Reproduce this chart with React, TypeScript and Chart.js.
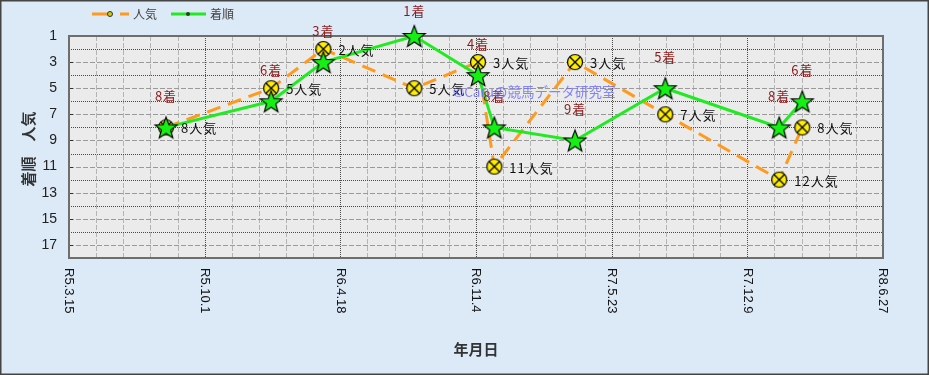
import React, { useEffect, useRef } from 'react';
import { Chart, registerables } from 'chart.js';

Chart.register(...registerables);

// ---- data ----
const START_DATE = '2023-03-15';
const xTickDates = ['2023-03-15', '2023-10-01', '2024-04-18', '2024-11-04', '2025-05-23', '2025-12-09', '2026-06-27'];
const xTickLabels = ['R5.3.15', 'R5.10.1', 'R6.4.18', 'R6.11.4', 'R7.5.23', 'R7.12.9', 'R8.6.27'];
const raceDates = ['2023-08-05', '2024-01-07', '2024-03-24', '2024-08-05', '2024-11-07', '2024-12-01', '2025-03-30', '2025-08-10', '2026-01-25', '2026-02-28'];
const finishOrder = [8, 6, 3, 1, 4, 8, 9, 5, 8, 6];
const popularity = [8, 5, 2, 5, 3, 11, 3, 7, 12, 8];
const yMin = 1;
const yMax = 18;

const DAY = 86400000;
const toDays = (d: string) => Math.round((Date.parse(d + 'T00:00:00Z') - Date.parse(START_DATE + 'T00:00:00Z')) / DAY);

const ORANGE = '#ff9a1e';
const GREEN = '#22ea22';
const JP = '"Noto Sans CJK JP", "Noto Sans", sans-serif';

function makeStar(): HTMLCanvasElement {
  const size = 26;
  const c = document.createElement('canvas');
  c.width = size; c.height = size;
  const ctx = c.getContext('2d')!;
  const R = 11.5, r = R * 0.42;
  const cx = size / 2, cy = size / 2 + R * 0.1;
  ctx.beginPath();
  for (let i = 0; i < 10; i++) {
    const a = -Math.PI / 2 + (i * Math.PI) / 5;
    const rad = i % 2 === 0 ? R : r;
    ctx.lineTo(cx + rad * Math.cos(a), cy + rad * Math.sin(a));
  }
  ctx.closePath();
  ctx.fillStyle = '#14f014';
  ctx.fill();
  ctx.lineWidth = 1.2;
  ctx.strokeStyle = '#000';
  ctx.stroke();
  return c;
}

function makeCircle(): HTMLCanvasElement {
  const size = 18;
  const c = document.createElement('canvas');
  c.width = size; c.height = size;
  const ctx = c.getContext('2d')!;
  const cx = size / 2, cy = size / 2, r = 7.5;
  ctx.beginPath();
  ctx.arc(cx, cy, r, 0, Math.PI * 2);
  ctx.fillStyle = '#ffee00';
  ctx.fill();
  ctx.lineWidth = 1.2;
  ctx.strokeStyle = '#000';
  ctx.stroke();
  const d = r * 0.707;
  ctx.beginPath();
  ctx.moveTo(cx - d, cy - d); ctx.lineTo(cx + d, cy + d);
  ctx.moveTo(cx + d, cy - d); ctx.lineTo(cx - d, cy + d);
  ctx.lineWidth = 1.3;
  ctx.stroke();
  return c;
}

export default function App() {
  const ref = useRef<HTMLCanvasElement | null>(null);

  useEffect(() => {
    document.body.style.margin = '0';
    document.body.style.overflow = 'hidden';
    const canvas = ref.current;
    if (!canvas) return;
    const starImg = makeStar();
    const circleImg = makeCircle();
    const xMin = toDays(xTickDates[0]);
    const xMax = toDays(xTickDates[xTickDates.length - 1]);
    const majorDays = xTickDates.map(toDays);

    const bgPlugin = {
      id: 'bg',
      beforeDraw(chart: any) {
        const { ctx, width, height, chartArea: a } = chart;
        ctx.save();
        ctx.fillStyle = '#dce9f7';
        ctx.fillRect(0, 0, width, height);
        ctx.fillStyle = '#ebebeb';
        ctx.fillRect(a.left, a.top, a.right - a.left, a.bottom - a.top);
        ctx.lineWidth = 1.5;
        ctx.strokeStyle = '#444';
        ctx.strokeRect(0.75, 0.75, width - 1.5, height - 1.5);
        ctx.restore();
      },
      beforeDatasetsDraw(chart: any) {
        const { ctx, chartArea: a, scales } = chart;
        const xs = scales.x, ys = scales.y;
        ctx.save();
        ctx.lineWidth = 1;
        for (let i = 0; i < majorDays.length - 1; i++) {
          const d0 = majorDays[i], d1 = majorDays[i + 1];
          for (let k = 1; k < 5; k++) {
            const x = Math.round(xs.getPixelForValue(d0 + ((d1 - d0) * k) / 5)) + 0.5;
            ctx.strokeStyle = '#b4b4b4';
            ctx.setLineDash([5, 2]);
            ctx.beginPath(); ctx.moveTo(x, a.top); ctx.lineTo(x, a.bottom); ctx.stroke();
          }
        }
        for (let v = yMin; v <= yMax; v++) {
          const y = Math.round(ys.getPixelForValue(v)) + 0.5;
          if (v % 2 === 0) {
            ctx.strokeStyle = '#4a4a4a';
            ctx.setLineDash([1, 1]);
          } else {
            ctx.strokeStyle = '#9a9a9a';
            ctx.setLineDash([5, 2]);
          }
          ctx.beginPath(); ctx.moveTo(a.left, y); ctx.lineTo(a.right, y); ctx.stroke();
        }
        majorDays.forEach((d) => {
          const x = Math.round(xs.getPixelForValue(d)) + 0.5;
          ctx.strokeStyle = '#4a4a4a';
          ctx.setLineDash([1, 1]);
          ctx.beginPath(); ctx.moveTo(x, a.top); ctx.lineTo(x, a.bottom); ctx.stroke();
        });
        ctx.setLineDash([]);
        ctx.strokeStyle = '#333';
        for (let v = yMin; v <= yMax; v += 2) {
          const y = Math.round(ys.getPixelForValue(v)) + 0.5;
          ctx.beginPath(); ctx.moveTo(a.left, y); ctx.lineTo(a.left + 4, y); ctx.stroke();
        }
        ctx.lineWidth = 2;
        ctx.strokeStyle = '#6e6e6e';
        ctx.strokeRect(a.left, a.top, a.right - a.left, a.bottom - a.top);
        ctx.restore();
      },
      afterDatasetsDraw(chart: any) {
        const { ctx, chartArea: a, scales } = chart;
        const xs = scales.x, ys = scales.y;
        ctx.save();
        ctx.textBaseline = 'middle';
        (ctx as any).letterSpacing = '1px';
        raceDates.forEach((d, i) => {
          const x = xs.getPixelForValue(toDays(d));
          ctx.font = `13px ${JP}`;
          ctx.fillStyle = '#8b1a1a';
          ctx.textAlign = 'center';
          const ly = Math.max(ys.getPixelForValue(finishOrder[i]) - 31, 11);
          ctx.fillText(`${finishOrder[i]}着`, x, ly);
          ctx.fillStyle = '#111';
          ctx.textAlign = 'left';
          ctx.fillText(`${popularity[i]}人気`, x + 15, ys.getPixelForValue(popularity[i]) + 1);
        });
        (ctx as any).letterSpacing = '0px';
        // watermark
        ctx.font = `13.5px ${JP}`;
        ctx.fillStyle = 'rgba(105,105,255,0.8)';
        ctx.textAlign = 'left';
        ctx.fillText('©Caruの競馬データ研究室', a.left + 384, a.top + 56);
        // x tick labels, rotated clockwise
        ctx.font = '13px "Liberation Sans", Arial, sans-serif';
        ctx.fillStyle = '#111';
        xTickDates.forEach((d, i) => {
          const x = xs.getPixelForValue(toDays(d));
          ctx.save();
          ctx.translate(x, a.bottom + 10);
          ctx.rotate(Math.PI / 2);
          ctx.textAlign = 'left';
          ctx.textBaseline = 'middle';
          ctx.fillText(xTickLabels[i], 0, 0);
          ctx.restore();
        });
        // axis titles
        ctx.font = `bold 15px ${JP}`;
        ctx.fillStyle = '#333';
        ctx.textAlign = 'center';
        ctx.textBaseline = 'middle';
        ctx.fillText('年月日', (a.left + a.right) / 2, 349);
        ctx.save();
        ctx.translate(28, (a.top + a.bottom) / 2 + 2);
        ctx.rotate(-Math.PI / 2);
        ctx.fillText('着順　人気', 0, 0);
        ctx.restore();
        // legend
        ctx.lineWidth = 3;
        ctx.strokeStyle = ORANGE;
        ctx.setLineDash([16, 12]);
        ctx.beginPath(); ctx.moveTo(92, 14); ctx.lineTo(129, 14); ctx.stroke();
        ctx.setLineDash([]);
        ctx.beginPath(); ctx.arc(110, 14, 2.5, 0, Math.PI * 2);
        ctx.fillStyle = '#cccc00'; ctx.fill();
        ctx.lineWidth = 1; ctx.strokeStyle = '#333'; ctx.stroke();
        ctx.lineWidth = 3;
        ctx.strokeStyle = GREEN;
        ctx.beginPath(); ctx.moveTo(171, 14); ctx.lineTo(206, 14); ctx.stroke();
        ctx.beginPath(); ctx.arc(188, 14, 2, 0, Math.PI * 2);
        ctx.fillStyle = '#224422'; ctx.fill();
        ctx.font = `12px ${JP}`;
        ctx.fillStyle = '#444';
        ctx.textAlign = 'left';
        ctx.fillText('人気', 133, 14);
        ctx.fillText('着順', 210, 14);
        ctx.restore();
      },
    };

    const chart = new Chart(canvas, {
      type: 'line',
      data: {
        datasets: [
          {
            label: '人気',
            data: popularity.map((v, i) => ({ x: toDays(raceDates[i]), y: v })),
            borderColor: ORANGE,
            borderWidth: 3,
            borderDash: [14, 8],
            pointStyle: circleImg as any,
            pointRadius: 8,
            tension: 0,
            clip: false as any,
            order: 2,
          },
          {
            label: '着順',
            data: finishOrder.map((v, i) => ({ x: toDays(raceDates[i]), y: v })),
            borderColor: GREEN,
            borderWidth: 3,
            pointStyle: starImg as any,
            pointRadius: 10,
            tension: 0,
            clip: false as any,
            order: 1,
          },
        ],
      },
      options: {
        animation: false,
        responsive: false,
        maintainAspectRatio: false,
        layout: { padding: { top: 36, right: 46, left: 0, bottom: 0 } },
        plugins: { legend: { display: false }, tooltip: { enabled: false } },
        scales: {
          x: {
            type: 'linear',
            min: xMin,
            max: xMax,
            grid: { display: false, drawTicks: false },
            border: { display: false },
            ticks: { display: false },
            afterFit: (s: any) => { s.height = 117; },
          },
          y: {
            type: 'linear',
            reverse: true,
            min: yMin,
            max: yMax,
            grid: { display: false, drawTicks: false },
            border: { display: false },
            ticks: {
              stepSize: 1,
              autoSkip: false,
              padding: 12,
              color: '#222',
              font: { size: 14, family: '"Liberation Sans", Arial, sans-serif' },
              callback: (v: any) => (Number(v) % 2 === 1 ? String(v) : ''),
            },
            afterFit: (s: any) => { s.width = 69; },
          },
        },
      },
      plugins: [bgPlugin],
    });
    return () => chart.destroy();
  }, []);

  return (
    <div style={{ position: 'absolute', left: 0, top: 0, width: 929, height: 375 }}>
      <canvas ref={ref} width={929} height={375} style={{ display: 'block', width: 929, height: 375 }} />
    </div>
  );
}
